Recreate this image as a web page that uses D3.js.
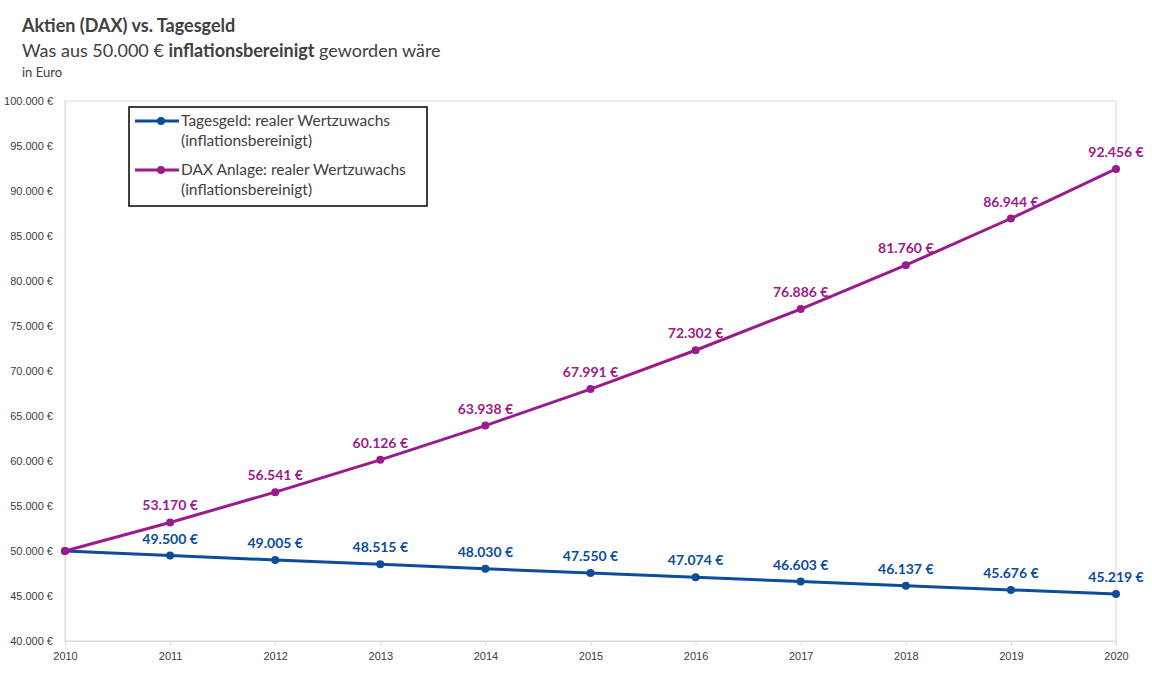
<!DOCTYPE html>
<html>
<head>
<meta charset="utf-8">
<script src="https://cdn.jsdelivr.net/npm/d3@7"></script>
<style>
  body { margin: 0; background: #fff; font-family: Lato, "Open Sans", sans-serif; }
  .axis text { fill: #404040; font-size: 11px; }
</style>
</head>
<body>
<svg id="chart" width="1152" height="689"></svg>
<script>
// Daten
var years = [2010, 2011, 2012, 2013, 2014, 2015, 2016, 2017, 2018, 2019, 2020];
var tagesgeld = [50000, 49500, 49005, 48515, 48030, 47550, 47074, 46603, 46137, 45676, 45219];
var dax = [50000, 53170, 56541, 60126, 63938, 67991, 72302, 76886, 81760, 86944, 92456];
var yTicks = [40000, 45000, 50000, 55000, 60000, 65000, 70000, 75000, 80000, 85000, 90000, 95000, 100000];

var series = [
  { name: "Tagesgeld: realer Wertzuwachs", values: tagesgeld, color: "#0b4d9b" },
  { name: "DAX Anlage: realer Wertzuwachs", values: dax, color: "#9b1b8c" }
];

var svg = d3.select("#chart");
var margin = { top: 101, right: 36, bottom: 48, left: 65 };
var width = 1152 - margin.left - margin.right,
    height = 689 - margin.top - margin.bottom;

var fmt = d3.formatLocale({ decimal: ",", thousands: ".", grouping: [3], currency: ["", " €"] }).format(",.0f");

//------------------------ Titel ------------------------------
svg.append("text").attr("x", 22).attr("y", 32)
  .style("font-size", "18px").style("font-weight", "bold").attr("fill", "#404040")
  .text("Aktien (DAX) vs. Tagesgeld");
var sub = svg.append("text").attr("x", 22).attr("y", 57)
  .style("font-size", "18px").attr("fill", "#404040");
sub.append("tspan").text("Was aus 50.000 € ");
sub.append("tspan").style("font-weight", "bold").text("inflationsbereinigt");
sub.append("tspan").text(" geworden wäre");
svg.append("text").attr("x", 22).attr("y", 77)
  .style("font-size", "13px").attr("fill", "#404040").text("in Euro");

var g = svg.append("g").attr("transform", "translate(" + margin.left + "," + margin.top + ")");

var x = d3.scaleLinear().domain([2010, 2020]).range([0, width]);
var y = d3.scaleLinear().domain([40000, 100000]).range([height, 0]);

// Rahmen
g.append("rect").attr("width", width).attr("height", height)
  .attr("fill", "none").attr("stroke", "#d9d9d9");

//------------------------ Achsen ------------------------------
var yAxis = g.append("g").attr("class", "axis")
  .call(d3.axisLeft(y).tickValues(yTicks).tickSize(0).tickPadding(12)
    .tickFormat(function(d) { return fmt(d) + " €"; }));
yAxis.select(".domain").attr("stroke", "#d9d9d9");

var xAxis = g.append("g").attr("class", "axis").attr("transform", "translate(0," + height + ")")
  .call(d3.axisBottom(x).tickValues(years).tickSize(5).tickPadding(6).tickFormat(d3.format("d")));
xAxis.select(".domain").attr("stroke", "#d9d9d9");
xAxis.selectAll(".tick line").attr("stroke", "#d9d9d9");

//------------------------ Linien ------------------------------
var line = d3.line()
  .x(function(d, i) { return x(years[i]); })
  .y(function(d) { return y(d); });

series.forEach(function(s) {
  g.append("path").datum(s.values)
    .attr("d", line).attr("fill", "none")
    .attr("stroke", s.color).attr("stroke-width", 3);

  g.selectAll(null).data(s.values).enter().append("circle")
    .attr("cx", function(d, i) { return x(years[i]); })
    .attr("cy", function(d) { return y(d); })
    .attr("r", 4).attr("fill", s.color);

  g.selectAll(null).data(s.values).enter().filter(function(d, i) { return i > 0; })
    .append("text")
    .attr("x", function(d, i) { return x(years[i + 1]); })
    .attr("y", function(d) { return y(d) - 12; })
    .attr("text-anchor", "middle")
    .style("font-size", "14px").style("font-weight", "bold")
    .attr("fill", s.color)
    .text(function(d) { return fmt(d) + " €"; });
});

//------------------------ Legende ------------------------------
var legend = svg.append("g").attr("transform", "translate(129,107)");
legend.append("rect").attr("width", 298).attr("height", 99)
  .attr("fill", "#fff").attr("stroke", "#000").attr("stroke-width", 1.5);

series.forEach(function(s, i) {
  var ly = 14 + i * 49;
  legend.append("line").attr("x1", 6).attr("x2", 50).attr("y1", ly).attr("y2", ly)
    .attr("stroke", s.color).attr("stroke-width", 3);
  legend.append("circle").attr("cx", 32).attr("cy", ly).attr("r", 4).attr("fill", s.color);
  var t = legend.append("text").attr("x", 52).attr("y", ly + 5)
    .style("font-size", "15.5px").attr("fill", "#404040");
  t.append("tspan").text(s.name);
  t.append("tspan").attr("x", 52).attr("dy", 20).text("(inflationsbereinigt)");
});
</script>
</body>
</html>
